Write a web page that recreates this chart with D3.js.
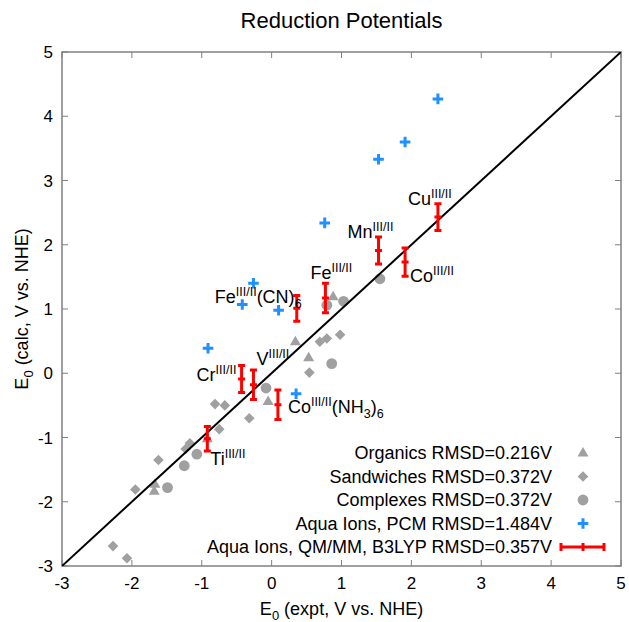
<!DOCTYPE html>
<html><head><meta charset="utf-8">
<script src="https://cdn.jsdelivr.net/npm/d3@7"></script>
<style>body{margin:0;background:#fff}text{font-family:"Liberation Sans",Arial,sans-serif;fill:#000}</style>
</head><body><svg id="c" width="629" height="622"></svg>
<script>
// ---- data ----
const xTicks = [-3,-2,-1,0,1,2,3,4,5];
const yTicks = [-3,-2,-1,0,1,2,3,4,5];
const organics = [[0.88,1.20],[0.34,0.50],[0.53,0.25],[-0.05,-0.43],[-0.92,-1.01],[-1.67,-1.72],[-1.68,-1.83]];
const sandwiches = [[-0.81,-0.48],[-0.67,-0.50],[-0.32,-0.70],[-0.75,-0.87],[-1.17,-1.09],[-1.23,-1.18],[-1.62,-1.35],[-1.95,-1.81],[-2.27,-2.69],[-2.07,-2.88],[0.69,0.49],[0.79,0.54],[0.98,0.60],[0.54,0.01]];
const complexes = [[1.03,1.12],[0.79,1.06],[1.55,1.47],[0.86,0.15],[-0.08,-0.23],[-1.07,-1.26],[-1.25,-1.44],[-1.49,-1.78]];
const pcm = [[2.38,4.27],[1.91,3.60],[1.53,3.33],[0.76,2.34],[-0.26,1.40],[-0.42,1.07],[0.10,0.98],[-0.91,0.39],[0.35,-0.32]];
const qmmmIons = ["Cu","Mn","Co","Fe","Fe(CN)6","Cr","V","Co(NH3)6","Ti"];
const qmmmX = [2.38,1.53,1.91,0.77,0.36,-0.43,-0.26,0.09,-0.92];
const qmmmY = [2.43,1.91,1.73,1.17,1.01,-0.09,-0.18,-0.49,-1.02];
const qmmmErr = [0.21,0.21,0.22,0.23,0.20,0.21,0.23,0.23,0.19];
const legendLabels = ["Organics RMSD=0.216V","Sandwiches RMSD=0.372V","Complexes RMSD=0.372V","Aqua Ions, PCM RMSD=1.484V","Aqua Ions, QM/MM, B3LYP RMSD=0.357V"];
// label parts: [main, superscript, rest, subscript-rest pieces]
const labelParts = {
  "Cu":[["Cu",0],["III/II",1]],
  "Mn":[["Mn",0],["III/II",1]],
  "Co":[["Co",0],["III/II",1]],
  "Fe":[["Fe",0],["III/II",1]],
  "Fe(CN)6":[["Fe",0],["III/II",1],["(CN)",0],["6",-1]],
  "Cr":[["Cr",0],["III/II",1]],
  "V":[["V",0],["III/II",1]],
  "Co(NH3)6":[["Co",0],["III/II",1],["(NH",0],["3",-1],[")",0],["6",-1]],
  "Ti":[["Ti",0],["III/II",1]]
};
// ---- layout ----
const labelOffset = {"Cu":[-30,-12],"Mn":[-31,-13],"Co":[5,20],"Fe":[-15,-19],"Fe(CN)6":[-82,-5],"Cr":[-45,2],"V":[3,-20],"Co(NH3)6":[10,8],"Ti":[3,26]};
const L=62,R=621,T=52,B=566;
const gray="#a0a0a0", blue="#1e90ff", red="#ff0000";
const svg=d3.select("#c");
const x=d3.scaleLinear().domain([-3,5]).range([L,R]);
const y=d3.scaleLinear().domain([-3,5]).range([B,T]);

// ticks
const tk=svg.append("g").attr("stroke","#808080").attr("stroke-width",1);
xTicks.forEach(v=>{
  tk.append("line").attr("x1",x(v)).attr("x2",x(v)).attr("y1",B).attr("y2",B-6);
  tk.append("line").attr("x1",x(v)).attr("x2",x(v)).attr("y1",T).attr("y2",T+6);
});
yTicks.forEach(v=>{
  tk.append("line").attr("y1",y(v)).attr("y2",y(v)).attr("x1",L).attr("x2",L+6);
  tk.append("line").attr("y1",y(v)).attr("y2",y(v)).attr("x1",R).attr("x2",R-6);
});
svg.append("g").selectAll("text").data(xTicks).join("text")
  .attr("x",d=>x(d)).attr("y",589).attr("text-anchor","middle").attr("font-size",17).text(d=>d);
svg.append("g").selectAll("text").data(yTicks).join("text")
  .attr("x",53).attr("y",d=>y(d)).attr("dy","0.36em").attr("text-anchor","end").attr("font-size",17).text(d=>d);
svg.append("rect").attr("x",L).attr("y",T).attr("width",R-L).attr("height",B-T)
  .attr("fill","none").attr("stroke","#808080").attr("stroke-width",1.5);

// title & axis labels
svg.append("text").attr("x",(L+R)/2).attr("y",28).attr("text-anchor","middle").attr("font-size",22).text("Reduction Potentials");
const xl=svg.append("text").attr("x",(L+R)/2).attr("y",615).attr("text-anchor","middle").attr("font-size",18);
xl.append("tspan").text("E");
xl.append("tspan").attr("font-size",13).attr("dy",5).text("0");
xl.append("tspan").attr("dy",-5).text(" (expt, V vs. NHE)");
const yl=svg.append("text").attr("transform",`translate(28,${(T+B)/2}) rotate(-90)`).attr("text-anchor","middle").attr("font-size",18);
yl.append("tspan").text("E");
yl.append("tspan").attr("font-size",13).attr("dy",5).text("0");
yl.append("tspan").attr("dy",-5).text(" (calc, V vs. NHE)");

const plot=svg.append("g");
const clip=svg.append("clipPath").attr("id","cp").append("rect").attr("x",L).attr("y",T).attr("width",R-L).attr("height",B-T);

// symbol helpers
function tri(g,cx,cy){g.append("path").attr("d",`M${cx},${cy-5.5}L${cx+5.5},${cy+4}L${cx-5.5},${cy+4}Z`).attr("fill",gray);}
function dia(g,cx,cy){g.append("path").attr("d",`M${cx},${cy-5.3}L${cx+5.3},${cy}L${cx},${cy+5.3}L${cx-5.3},${cy}Z`).attr("fill",gray);}
function cir(g,cx,cy){g.append("circle").attr("cx",cx).attr("cy",cy).attr("r",5.4).attr("fill",gray);}
function crs(g,cx,cy){g.append("path").attr("d",`M${cx-5.3},${cy}H${cx+5.3}M${cx},${cy-5.3}V${cy+5.3}`).attr("stroke",blue).attr("stroke-width",3).attr("fill","none");}

organics.forEach(d=>tri(plot,x(d[0]),y(d[1])));
sandwiches.forEach(d=>dia(plot,x(d[0]),y(d[1])));
complexes.forEach(d=>cir(plot,x(d[0]),y(d[1])));

// diagonal
plot.append("line").attr("x1",x(-3)).attr("y1",y(-3)).attr("x2",x(5)).attr("y2",y(5))
  .attr("stroke","#000").attr("stroke-width",2).attr("clip-path","url(#cp)");

pcm.forEach(d=>crs(plot,x(d[0]),y(d[1])));

// error bars
qmmmIons.forEach((n,i)=>{
  const cx=x(qmmmX[i]), cy=y(qmmmY[i]), y1=y(qmmmY[i]+qmmmErr[i]), y2=y(qmmmY[i]-qmmmErr[i]);
  const g=plot.append("g").attr("stroke",red).attr("stroke-width",3).attr("fill","none");
  g.append("path").attr("d",`M${cx},${y1}V${y2}M${cx-3.5},${y1}H${cx+3.5}M${cx-3.5},${y2}H${cx+3.5}M${cx-3.5},${cy}H${cx+3.5}`);
  const o=labelOffset[n];
  const t=plot.append("text").attr("x",cx+o[0]).attr("y",cy+o[1]).attr("font-size",18);
  let cur=0;
  labelParts[n].forEach(p=>{
    const target = p[1]===1?-7:(p[1]===-1?5:0);
    const ts=t.append("tspan").attr("dy",target-cur).attr("font-size",p[1]===0?18:12.5).text(p[0]);
    cur=target;
  });
});

// legend
const lg=svg.append("g");
const ly=[452.5,476.5,500,523.5,547];
legendLabels.forEach((s,i)=>{
  lg.append("text").attr("x",552).attr("y",ly[i]).attr("dy","0.36em").attr("text-anchor","end").attr("font-size",18).text(s);
});
tri(lg,583,ly[0]); dia(lg,583,ly[1]); cir(lg,583,ly[2]); crs(lg,583,ly[3]);
lg.append("path").attr("d",`M561,${ly[4]}H604M561,${ly[4]-4}V${ly[4]+4}M604,${ly[4]-4}V${ly[4]+4}M583,${ly[4]-4}V${ly[4]+4}`)
  .attr("stroke",red).attr("stroke-width",3).attr("fill","none");
</script></body></html>
